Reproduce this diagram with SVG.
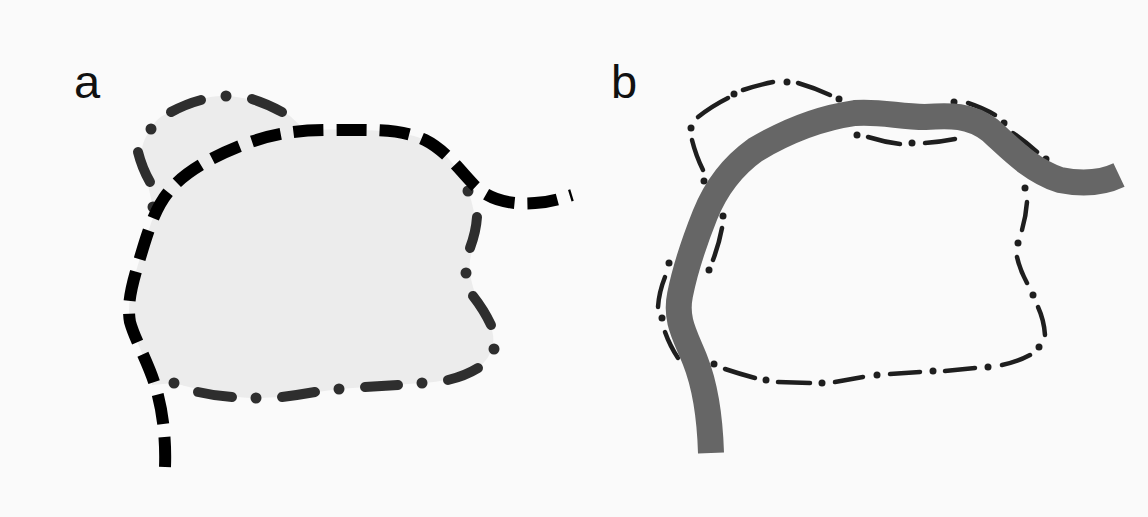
<svg xmlns="http://www.w3.org/2000/svg" width="1148" height="517" viewBox="0 0 1148 517">
<style>
.lbl{font-family:"Liberation Sans",Arial,sans-serif;font-size:47px;fill:#111}
.da{stroke:#2e2e2e;stroke-width:10;stroke-linecap:round;fill:none}
.pa{fill:#2e2e2e}
.db{stroke:#1e1e1e;stroke-width:4.5;stroke-linecap:round;fill:none}
.pb{fill:#1e1e1e}
</style>
<rect width="1148" height="517" fill="#fafafa"/>
<g id="panel-a">
<text class="lbl" x="74" y="98">a</text>
<path id="region-a" fill="#ececec" d="M151,129 C155,120 162,115 171,112 C190,101 210,95 226,96 C250,97 275,106 290,116 L305,130 C340,129 400,128 425,140 C445,150 460,170 468,191 C476,212 478,232 471,255 C466,275 476,300 490,325 C497,340 493,356 478,368 C460,378 440,382 422,383 L339,389 C310,393 280,398 256,398 C230,398 200,390 174,383 L152,385 C148,362 135,340 130,322 C126,300 135,275 143,248 C148,232 152,220 156,210 L153,207 C150,195 148,182 143,168 C139,155 142,140 151,129 Z"/>
<g id="loop-a">
<path class="da" d="M171,112 Q186,104 201,100"/>
<circle class="pa" cx="226" cy="96" r="5.5"/>
<path class="da" d="M252,99 Q268,104 282,112"/>
<circle class="pa" cx="151" cy="129" r="5.5"/>
<path class="da" d="M138,152 Q142,168 150,182"/>
<circle class="pa" cx="153" cy="207" r="5.5"/>
<circle class="pa" cx="174" cy="383" r="5.5"/>
<path class="da" d="M198,392 Q215,396 232,397"/>
<circle class="pa" cx="256" cy="398" r="5.5"/>
<path class="da" d="M282,397 Q298,395 315,392"/>
<circle class="pa" cx="339" cy="389" r="5.5"/>
<path class="da" d="M365,387 L398,385"/>
<circle class="pa" cx="422" cy="383" r="5.5"/>
<path class="da" d="M448,380 Q465,376 478,368"/>
<circle class="pa" cx="494" cy="349" r="5.5"/>
<path class="da" d="M491,325 Q484,310 473,296"/>
<circle class="pa" cx="466" cy="273" r="5.5"/>
<path class="da" d="M470,248 Q476,232 477,217"/>
<circle class="pa" cx="468" cy="191" r="5.5"/>
</g>
<path id="boundary-a" fill="none" stroke="#000" stroke-width="12" stroke-dasharray="30 13" d="M165,467 C166,440 163,410 155,385 C148,362 135,340 130,322 C126,300 135,275 143,248 C150,225 157,205 170,190 C185,172 210,158 240,146 C270,134 295,130 330,130 C370,130 400,128 425,140 C445,150 458,168 475,186 C490,200 510,205 535,203 C552,202 562,198 572,195"/>
</g>
<g id="panel-b">
<text class="lbl" x="611" y="98">b</text>
<g id="loop-b">
<circle class="pb" cx="691" cy="128" r="3.5"/>
<path class="db" d="M698,117 Q712,106 728,98"/>
<circle class="pb" cx="734" cy="94" r="3.5"/>
<path class="db" d="M743,90 Q758,85 773,82"/>
<circle class="pb" cx="787" cy="82" r="3.5"/>
<path class="db" d="M798,83 Q815,88 830,95"/>
<circle class="pb" cx="839" cy="99" r="3.5"/>
<path class="db" d="M692,140 Q696,156 703,170"/>
<circle class="pb" cx="704" cy="181" r="3.5"/>
<circle class="pb" cx="857" cy="135" r="3.5"/>
<path class="db" d="M868,137 Q884,142 900,144"/>
<circle class="pb" cx="912" cy="143" r="3.5"/>
<path class="db" d="M925,143 Q940,142 955,139"/>
<circle class="pb" cx="954" cy="102" r="3.5"/>
<path class="db" d="M968,103 Q983,108 995,115"/>
<circle class="pb" cx="1004" cy="123" r="3.5"/>
<path class="db" d="M1013,133 Q1026,142 1037,152"/>
<circle class="pb" cx="1046" cy="159" r="3.5"/>
<circle class="pb" cx="1025" cy="188" r="3.5"/>
<path class="db" d="M1027,202 Q1026,216 1022,230"/>
<circle class="pb" cx="1018" cy="243" r="3.5"/>
<path class="db" d="M1017,257 Q1020,270 1027,283"/>
<circle class="pb" cx="1033" cy="295" r="3.5"/>
<path class="db" d="M1038,307 Q1044,320 1045,335"/>
<circle class="pb" cx="1039" cy="347" r="3.5"/>
<path class="db" d="M1030,355 Q1017,362 1002,365"/>
<circle class="pb" cx="988" cy="367" r="3.5"/>
<path class="db" d="M975,368 L945,371"/>
<circle class="pb" cx="933" cy="371" r="3.5"/>
<path class="db" d="M920,372 L890,374"/>
<circle class="pb" cx="877" cy="375" r="3.5"/>
<path class="db" d="M863,377 L835,382"/>
<circle class="pb" cx="822" cy="383" r="3.5"/>
<path class="db" d="M810,383 L778,382"/>
<circle class="pb" cx="766" cy="380" r="3.5"/>
<path class="db" d="M755,378 Q740,374 725,369"/>
<circle class="pb" cx="714" cy="364" r="3.5"/>
<path class="db" d="M678,358 Q670,346 665,332"/>
<circle class="pb" cx="662" cy="318" r="3.5"/>
<path class="db" d="M658,307 Q659,292 665,277"/>
<circle class="pb" cx="669" cy="263" r="3.5"/>
<circle class="pb" cx="723" cy="216" r="3.5"/>
<path class="db" d="M722,228 Q719,244 713,260"/>
<circle class="pb" cx="709" cy="270" r="3.5"/>
</g>
<path id="band-b" fill="none" stroke="#666" stroke-width="26" d="M711,453 C710,420 705,385 695,360 C685,335 675,320 680,295 C685,270 695,240 705,215 C715,190 730,168 755,150 C785,132 820,118 855,113 C880,111 900,117 925,117 C950,115 970,115 990,130 C1010,148 1030,170 1060,180 C1080,184 1100,184 1119,175"/>
</g>
</svg>
